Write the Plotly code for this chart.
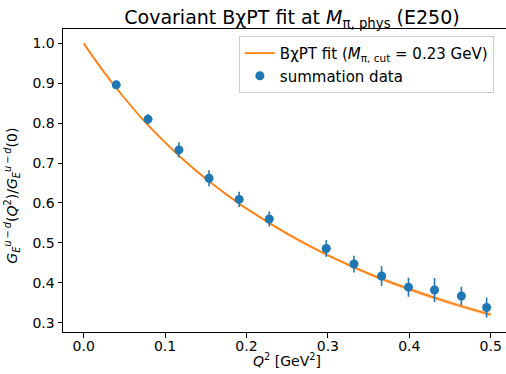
import plotly.graph_objects as go

# data points (summation data)
q2 = [0.040, 0.079, 0.117, 0.154, 0.191, 0.228, 0.298, 0.332, 0.366, 0.399, 0.431, 0.464, 0.495]
ff = [0.896, 0.810, 0.733, 0.662, 0.609, 0.560, 0.486, 0.447, 0.417, 0.389, 0.382, 0.367, 0.338]
ff_err = [0.010, 0.013, 0.019, 0.020, 0.019, 0.019, 0.021, 0.021, 0.025, 0.024, 0.030, 0.023, 0.025]

# fit curve
fit_q2 = [0.0, 0.025, 0.05, 0.075, 0.1, 0.125, 0.15, 0.175, 0.2, 0.25, 0.3, 0.35, 0.4, 0.45, 0.5]
fit_val = [1.000, 0.928, 0.863, 0.804, 0.752, 0.704, 0.661, 0.622, 0.586, 0.523, 0.469, 0.423, 0.384, 0.350, 0.320]
fit_err = [0.000, 0.001, 0.001, 0.002, 0.002, 0.002, 0.003, 0.003, 0.003, 0.004, 0.004, 0.004, 0.005, 0.005, 0.005]

xticks = [0.0, 0.1, 0.2, 0.3, 0.4, 0.5]
yticks = [0.3, 0.4, 0.5, 0.6, 0.7, 0.8, 0.9, 1.0]

blue = "#1f77b4"
orange = "#ff7f0e"
font_family = "DejaVu Sans"

fig = go.Figure()

upper = [v + e for v, e in zip(fit_val, fit_err)]
lower = [v - e for v, e in zip(fit_val, fit_err)]
fig.add_trace(go.Scatter(x=fit_q2, y=upper, mode="lines", line=dict(width=0, shape="spline"),
                         showlegend=False, hoverinfo="skip"))
fig.add_trace(go.Scatter(x=fit_q2, y=lower, mode="lines", line=dict(width=0, shape="spline"),
                         fill="tonexty", fillcolor="rgba(255,127,14,0.3)", showlegend=False, hoverinfo="skip"))
fig.add_trace(go.Scatter(x=fit_q2, y=fit_val, mode="lines",
                         line=dict(color=orange, width=1.8, shape="spline"),
                         name="BχPT fit (<i>M</i><sub>π, cut</sub> = 0.23 GeV)"))
fig.add_trace(go.Scatter(x=q2, y=ff, mode="markers",
                         marker=dict(color=blue, size=9),
                         error_y=dict(type="data", array=ff_err, color=blue, thickness=1.6, width=0),
                         name="summation data"))

ylabel = ("<i>G</i><sub><i>E</i></sub><sup><i>u</i>\u2009−\u2009<i>d</i></sup>(<i>Q</i><sup>2</sup>)/"
          "<i>G</i><sub><i>E</i></sub><sup><i>u</i>\u2009−\u2009<i>d</i></sup>(0)")

fig.update_layout(
    width=506, height=374,
    margin=dict(l=63, r=0, t=29, b=42, autoexpand=False),
    paper_bgcolor="white", plot_bgcolor="white",
    font=dict(family=font_family, size=14, color="black"),
    title=dict(text="Covariant BχPT fit at <i>M</i><sub>π, phys</sub> (E250)",
               x=292 / 506, xanchor="center", y=0.972, yanchor="top",
               font=dict(size=19, family=font_family)),
    legend=dict(x=0.397, xanchor="left", y=0.977, yanchor="top",
                bgcolor="rgba(255,255,255,0.8)", bordercolor="#cccccc", borderwidth=1,
                font=dict(size=15), tracegroupgap=0, traceorder="normal", itemwidth=30),
    showlegend=True,
    annotations=[
        dict(text="<i>Q</i><sup>2</sup> [GeV<sup>2</sup>]", xref="paper", yref="paper",
             x=0.506, y=-28 / 303, xanchor="center", yanchor="middle", showarrow=False,
             font=dict(size=14)),
        dict(text=ylabel, xref="paper", yref="paper", x=-51 / 443, y=0.45,
             xanchor="center", yanchor="middle", textangle=-90, showarrow=False,
             font=dict(size=14)),
    ],
)
fig.update_xaxes(range=[-0.0254, 0.5188], tickvals=xticks,
                 ticktext=[f"{t:.1f}" for t in xticks], automargin=False,
                 showgrid=False, zeroline=False, showline=True, linecolor="black", linewidth=1,
                 mirror=True, ticks="outside", ticklen=4.5, tickcolor="black",
                 ticklabelstandoff=-3)
fig.update_yaxes(range=[0.2767, 1.036], tickvals=yticks,
                 ticktext=[f"{t:.1f}" for t in yticks], automargin=False,
                 showgrid=False, zeroline=False, showline=True, linecolor="black", linewidth=1,
                 mirror=False, ticks="outside", ticklen=4.5, tickcolor="black")

fig.write_html("out.html", config={"displayModeBar": False},
               post_script="document.body.style.margin='0';document.body.style.overflow='hidden';")
